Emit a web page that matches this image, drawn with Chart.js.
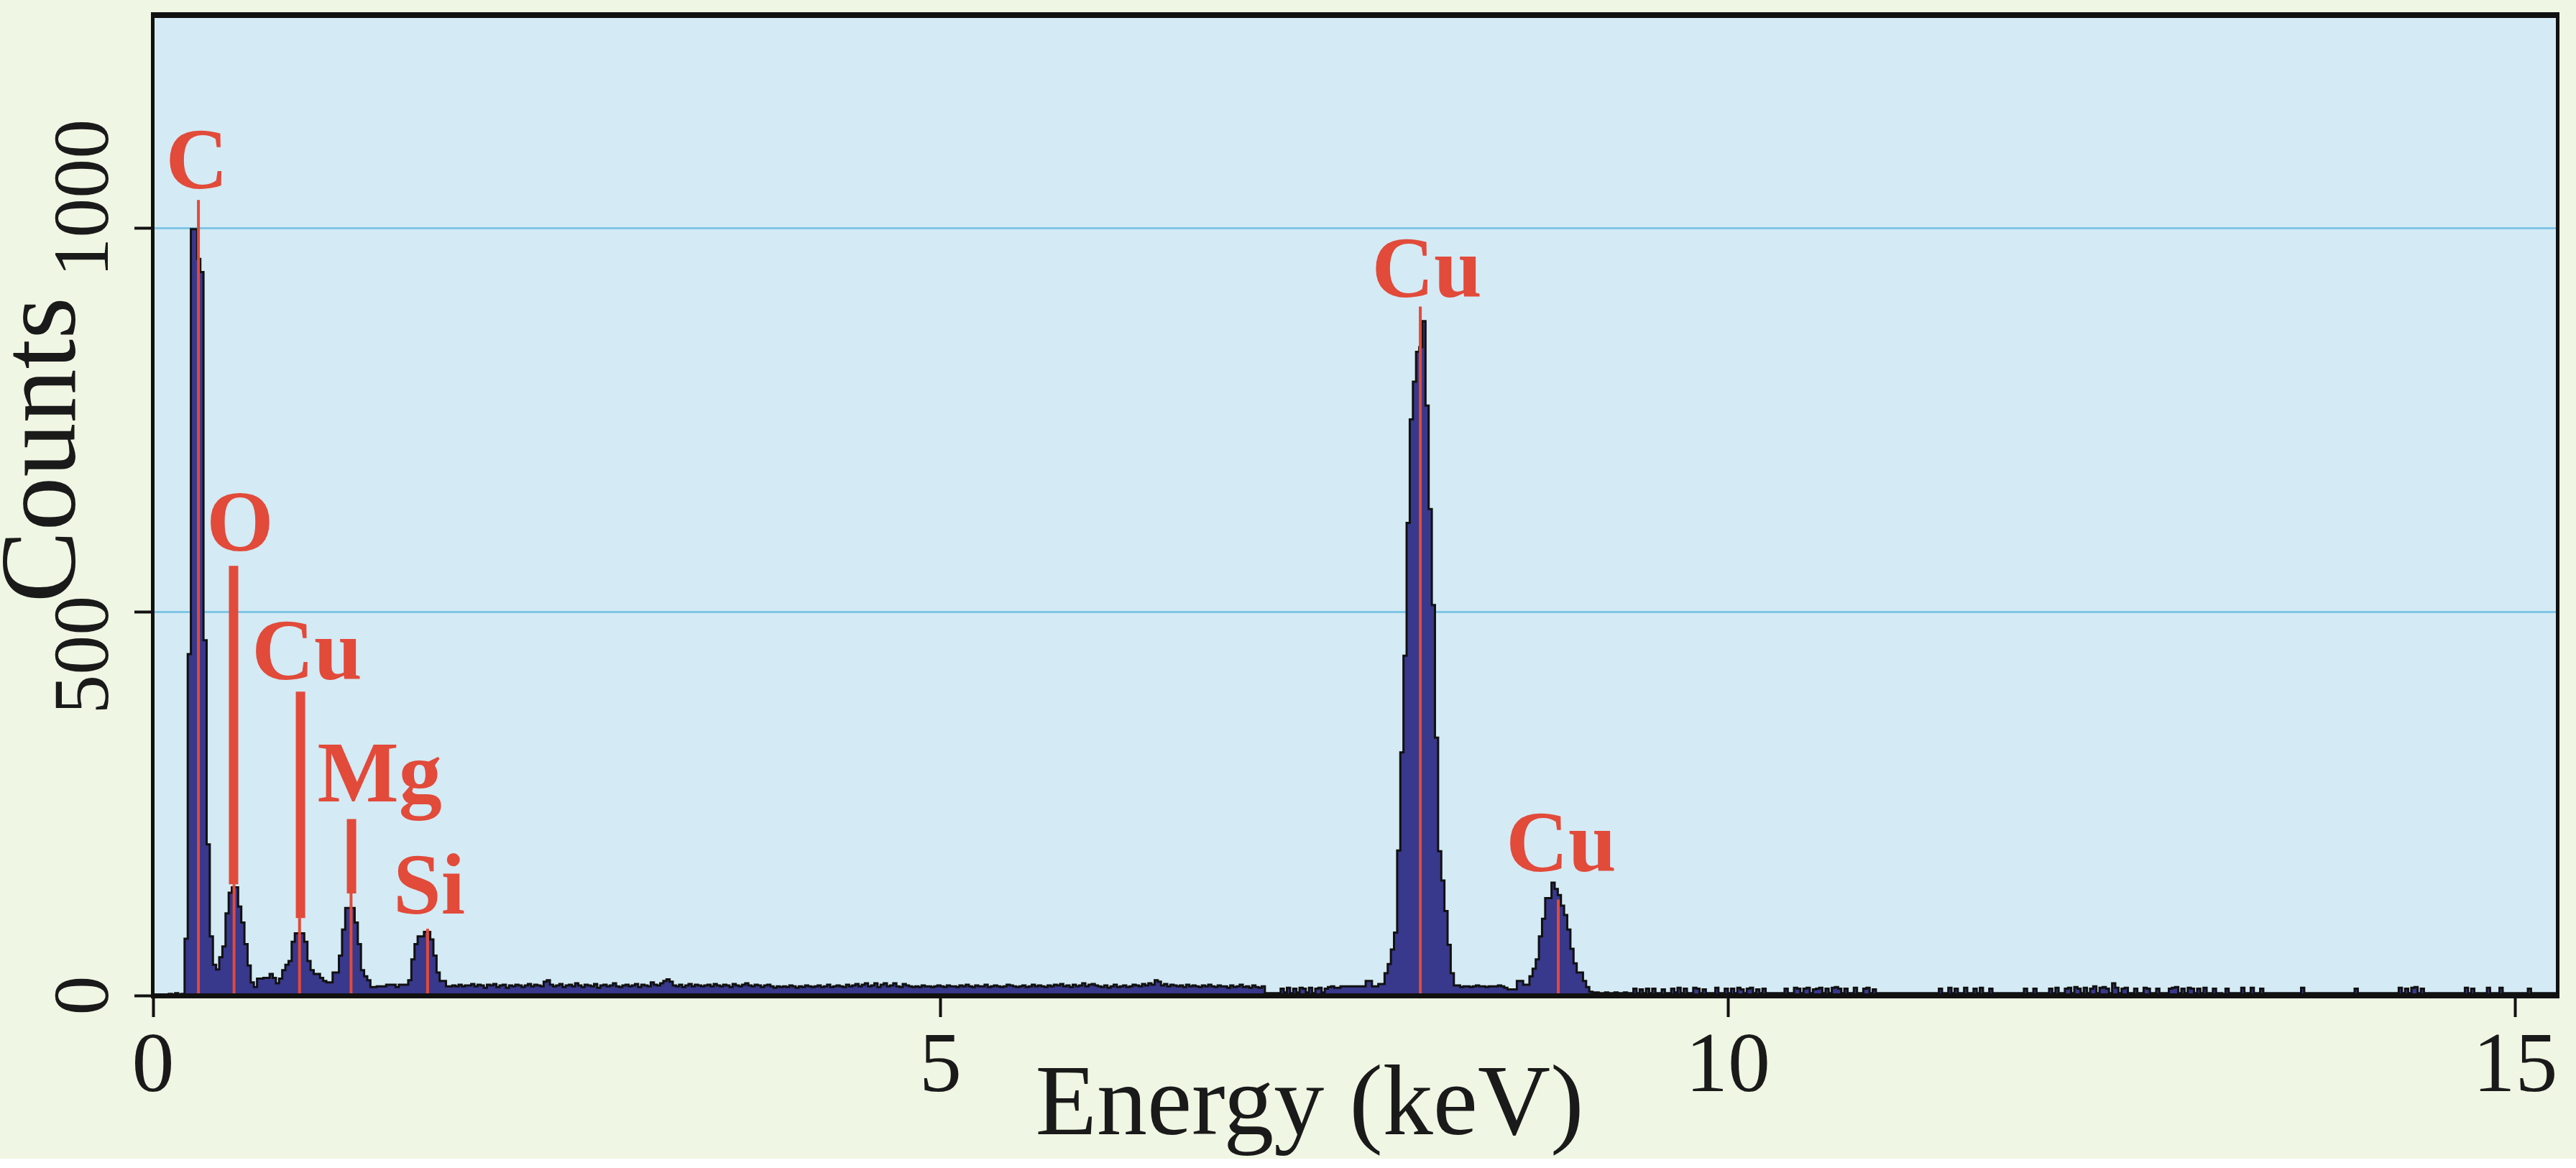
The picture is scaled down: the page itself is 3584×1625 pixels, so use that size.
<!DOCTYPE html>
<html>
<head>
<meta charset="utf-8">
<title>EDS spectrum</title>
<script src="https://cdn.jsdelivr.net/npm/chart.js@4.4.1/dist/chart.umd.min.js"></script>
<style>
  html, body { margin: 0; padding: 0; background: #eff6e3; overflow: hidden; }
  #wrap { width: 3584px; height: 1625px; position: relative; }
</style>
</head>
<body>
<div id="wrap"><canvas id="edsChart"></canvas></div>
<script>
// spectrum: one value per 0.02 keV channel, 25 channels (0.5 keV) per row
var channelKeV = 0.02;
var counts = [
  0,0,0,0,0,2,0,3,0,2, 74,445,999,999,960,943,463,197,77,40, 34,50,64,107,134,
  141,141,116,95,67, 39,17,11,22,22, 23,23,28,23,16, 22,33,40,45,70, 81,81,81,70,45,
  33,28,28,23,19, 17,17,30,30,52, 86,114,114,114,95, 67,33,25,20,11, 11,12,12,12,14,
  14,14,11,14,14, 14,20,47,67,77, 77,83,83,73,52, 30,19,19,12,12, 13,12,14,12,13,
  13,15,12,14,13, 10,14,13,15,11, 13,14,10,13,12, 14,13,11,13,15, 12,14,13,12,18,
  20,14,12,13,15, 11,13,14,12,16, 13,11,14,13,12, 15,10,13,14,12, 13,16,12,11,13,
  14,12,13,15,11, 14,13,12,17,14, 13,16,19,21,18, 13,12,14,11,13, 15,12,14,13,12,
  13,14,12,15,13, 12,14,13,11,15, 13,12,14,16,13, 12,14,13,11,13, 14,12,10,12,11,
  12,11,13,12,10, 12,11,13,12,11, 12,13,11,12,14, 11,12,13,12,11, 14,12,13,15,12,
  14,16,12,13,16, 11,14,16,12,13, 16,12,11,15,13, 12,11,12,11,13, 12,12,11,12,13,
  12,11,13,12,12, 11,13,12,14,12, 11,13,12,12,14, 11,12,13,12,11, 12,14,13,12,11,
  12,13,11,12,14, 12,13,12,11,13, 12,14,13,15,12, 13,11,14,12,13, 16,12,14,15,13,
  12,11,13,10,12, 14,11,12,13,11, 12,14,13,12,15, 13,16,14,20,18, 13,15,12,14,13,
  12,13,11,14,12, 13,12,11,13,12, 14,12,11,13,12, 12,10,13,11,12, 14,11,12,10,13,
  11,10,12,3,3, 3,3,3,9,4, 10,3,9,4,10, 9,4,10,3,9, 10,4,9,11,12,
  10,10,12,12,12, 12,12,12,12,12, 19,19,12,12,15, 15,29,41,60,82, 189,317,443,616,751,
  800,839,845,879,769, 634,509,336,188,150, 110,66,29,13,13, 11,12,12,11,12, 13,12,12,11,12,
  12,12,13,12,10, 8,8,8,19,19, 14,14,25,35,47, 77,100,127,127,147, 139,131,117,105,86,
  61,42,30,30,19, 11,5,4,4,3, 3,4,3,3,4, 3,3,4,3,3, 9,3,8,3,9,
  3,9,3,3,8, 3,3,9,4,10, 3,9,3,3,10, 9,3,8,3,3, 3,10,3,3,9,
  3,9,3,10,8, 3,9,10,3,8, 3,9,3,3,3, 3,3,3,9,3, 3,10,9,3,9,
  10,3,8,9,10, 3,9,3,10,11, 9,3,9,3,3, 10,3,3,9,10, 3,8,3,3,3,
  3,3,3,3,3, 3,3,3,3,3, 3,3,3,3,3, 3,3,9,3,3, 10,3,9,3,3,
  10,3,3,9,3, 10,3,3,9,3, 3,3,3,3,3, 3,3,3,3,9, 3,3,9,3,3,
  3,3,9,3,10, 3,3,9,10,3, 11,9,3,10,3, 9,12,3,10,11, 9,3,16,10,3,
  9,10,3,3,9, 3,3,10,9,3, 3,9,3,3,3, 9,10,11,3,9, 3,10,9,3,9,
  3,10,3,3,9, 3,3,2,9,3, 3,3,3,10,3, 3,10,3,3,9, 3,3,3,3,3,
  3,3,3,3,3, 3,3,10,3,3, 3,3,3,3,3, 3,3,3,3,3, 3,3,3,3,9,
  3,3,3,3,3, 3,3,3,3,3, 3,3,3,10,3, 9,3,10,11,3, 9,3,3,3,3,
  3,3,3,3,3, 3,3,3,3,10, 3,9,3,3,3, 3,10,3,3,3, 10,3,3,3,3,
  3,3,3,3,9, 3,3,3,3,3, 3,3,3,3,3
];

var xTicks = [0, 5, 10, 15];
var yTicks = [0, 500, 1000];
var xMax = 15.267;
var yMax = 1277;

// element lines (keV) and the count where each thin red line stops
var lineKeV = [0.288, 0.514, 0.930, 1.257, 1.743, 8.047, 8.923];
var lineTop = [1037, 145, 101, 133, 87, 898, 125];
// thick marker bars above O, Cu L and Mg
var barKeV = [0.511, 0.936, 1.260];
var barLow = [145, 101, 133];
var barHigh = [560, 396, 230];
// element labels: text, centre (keV), baseline (counts)
var labelText = ['C', 'O', 'Cu', 'Mg', 'Si', 'Cu', 'Cu'];
var labelKeV = [0.278, 0.552, 0.977, 1.438, 1.753, 8.088, 8.941];
var labelCounts = [1052, 580, 412, 253, 107, 911, 162];

var red = '#e24a3a';
var serif = '"Liberation Serif", "DejaVu Serif", serif';
// the rotated count labels do not sit exactly on their ticks in the original
var yLabelShift = [0, 60, -42];

var spectrum = counts.map(function (c, i) {
  return { x: (i + 0.5) * channelKeV, y: c };
});

var datasets = [{
  data: spectrum,
  stepped: 'middle',
  borderColor: '#111111',
  borderWidth: 3,
  backgroundColor: '#38388c',
  fill: 'origin',
  pointRadius: 0,
  order: 2
}];
lineKeV.forEach(function (e, i) {
  datasets.push({
    data: [{ x: e, y: 0 }, { x: e, y: lineTop[i] }],
    borderColor: red, borderWidth: 4, borderCapStyle: 'butt',
    pointRadius: 0, fill: false, order: 1
  });
});
barKeV.forEach(function (e, i) {
  datasets.push({
    data: [{ x: e, y: barLow[i] }, { x: e, y: barHigh[i] }],
    borderColor: red, borderWidth: 13, borderCapStyle: 'butt',
    pointRadius: 0, fill: false, order: 1
  });
});

var backdrop = {
  id: 'backdrop',
  beforeDraw: function (chart) {
    var c = chart.ctx, a = chart.chartArea;
    c.save();
    c.fillStyle = '#eff6e3';
    c.fillRect(0, 0, chart.width, chart.height);
    c.fillStyle = '#ffffff';
    c.fillRect(0, 1612, chart.width, chart.height - 1612);
    c.fillStyle = '#d4eaf4';
    c.fillRect(a.left, a.top, a.right - a.left, a.bottom - a.top);
    c.restore();
  }
};

var frameAndText = {
  id: 'frameAndText',
  afterDatasetsDraw: function (chart) {
    var c = chart.ctx, a = chart.chartArea;
    var sx = chart.scales.x, sy = chart.scales.y;
    c.save();
    c.fillStyle = '#111111';
    c.fillRect(a.left - 3, a.top - 5, a.right - a.left + 6, 8);
    c.fillRect(a.left - 3, a.bottom - 3, a.right - a.left + 6, 7);
    c.fillRect(a.left - 3, a.top - 5, 5, a.bottom - a.top + 8);
    c.fillRect(a.right - 2, a.top - 5, 5, a.bottom - a.top + 8);

    c.fillStyle = red;
    c.font = 'bold 120px ' + serif;
    c.textAlign = 'center';
    c.textBaseline = 'alphabetic';
    labelText.forEach(function (t, i) {
      c.fillText(t, sx.getPixelForValue(labelKeV[i]), sy.getPixelForValue(labelCounts[i]));
    });

    c.fillStyle = '#1a1a1a';
    c.font = '110px ' + serif;
    yTicks.forEach(function (v, i) {
      c.save();
      c.translate(150, sy.getPixelForValue(v) + yLabelShift[i]);
      c.rotate(-Math.PI / 2);
      c.fillText(String(v), 0, 0);
      c.restore();
    });

    c.font = '140px ' + serif;
    c.fillText('Energy (keV)', 1822, 1578);
    c.font = '150px ' + serif;
    c.save();
    c.translate(104, 626);
    c.rotate(-Math.PI / 2);
    c.fillText('Counts', 0, 0);
    c.restore();
    c.restore();
  }
};

var ctx = document.getElementById('edsChart').getContext('2d');
var edsChart = new Chart(ctx, {
  type: 'line',
  data: { datasets: datasets },
  options: {
    responsive: true,
    maintainAspectRatio: false,
    devicePixelRatio: 1,
    animation: false,
    events: [],
    layout: { padding: { top: 22, right: 26, left: 0, bottom: 0 } },
    plugins: { legend: { display: false }, tooltip: { enabled: false } },
    scales: {
      x: {
        type: 'linear',
        min: 0,
        max: xMax,
        afterFit: function (scale) { scale.height = 240; },
        afterBuildTicks: function (scale) {
          scale.ticks = xTicks.map(function (v) { return { value: v }; });
        },
        border: { display: false },
        grid: {
          drawOnChartArea: false,
          tickLength: 30,
          tickWidth: 4,
          tickColor: '#111111'
        },
        ticks: {
          autoSkip: false,
          maxRotation: 0,
          padding: 1,
          color: '#1a1a1a',
          font: { family: serif, size: 118 }
        }
      },
      y: {
        type: 'linear',
        min: 0,
        max: yMax,
        afterFit: function (scale) { scale.width = 213; },
        afterBuildTicks: function (scale) {
          scale.ticks = yTicks.map(function (v) { return { value: v }; });
        },
        border: { display: false },
        grid: {
          color: '#80c6e6',
          lineWidth: 3,
          tickLength: 26,
          tickWidth: 4,
          tickColor: '#111111'
        },
        ticks: { display: false }
      }
    }
  },
  plugins: [backdrop, frameAndText]
});
</script>
</body>
</html>
